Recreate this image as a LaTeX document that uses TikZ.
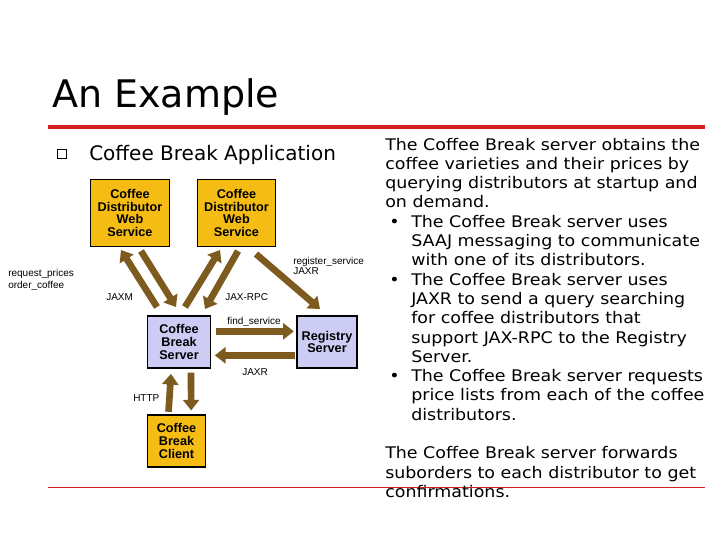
\documentclass[tikz,border=0pt]{standalone}
\usepackage{fontspec}
\setmainfont{DejaVu Sans}
\newfontfamily\widefont[FakeStretch=1.09]{DejaVu Sans}
\newfontfamily\arial{Liberation Sans}
\usetikzlibrary{arrows.meta}
\definecolor{boxyellow}{HTML}{F5BD14}
\definecolor{boxblue}{HTML}{CCCCF5}
\definecolor{brownarrow}{HTML}{7D5A1E}
\definecolor{slidered}{HTML}{D42020}
\tikzset{
  ybox/.style={draw=black, line width=0.8pt, fill=boxyellow, align=center, font=\arial\bfseries\fontsize{9.5}{9.5}\selectfont, inner sep=0pt},
  bbox/.style={draw=black, line width=0.8pt, fill=boxblue, align=center, font=\arial\bfseries\fontsize{9.5}{9.5}\selectfont, inner sep=0pt},
  fat/.style={draw=brownarrow, line width=5pt, -{Triangle[length=8pt,width=12pt]}},
  lbl/.style={font=\arial\fontsize{7.5}{8}\selectfont, anchor=base west, inner sep=0pt},
  rt/.style={font=\widefont\fontsize{12}{12}\selectfont, anchor=base west, inner sep=0pt}
}
\begin{document}
\begin{tikzpicture}[x=0.75pt,y=-0.75pt]
\useasboundingbox (0,0) rectangle (720,540);
\fill[white] (0,0) rectangle (720,540);
% title
\node[font=\fontsize{28.5}{30}\selectfont, anchor=base west, inner sep=0pt] (title) at (52,107) {An Example};
\draw[slidered, line width=2.5pt] (48,127) -- (705,127);
\draw[slidered, line width=0.5pt] (48,487) -- (705,487);
\node[draw=black, line width=0.6pt, minimum size=7pt, inner sep=0pt] (bul) at (62,154) {};
\node[font=\fontsize{15}{16}\selectfont, anchor=base west, inner sep=0pt] (sub) at (89,160) {Coffee Break Application};
% boxes
\node[ybox, minimum width=59pt, minimum height=50pt] (d1) at (130,213) {Coffee\\Distributor\\Web\\Service};
\node[ybox, minimum width=59pt, minimum height=50pt] (d2) at (236.5,213) {Coffee\\Distributor\\Web\\Service};
\node[bbox, minimum width=47pt, minimum height=39pt] (srv) at (179,342) {Coffee\\Break\\Server};
\node[bbox, minimum width=45pt, minimum height=39pt] (reg) at (327,342) {Registry\\Server};
\node[ybox, minimum width=43pt, minimum height=39pt] (cli) at (176.5,441) {Coffee\\Break\\Client};
% arrows
\coordinate (a1s) at (157,307); \coordinate (a1e) at (121,250);
\coordinate (a2s) at (141,251); \coordinate (a2e) at (176,307);
\coordinate (a3s) at (185,307); \coordinate (a3e) at (220,250);
\coordinate (a4s) at (238,251); \coordinate (a4e) at (205,309);
\coordinate (a5s) at (256,254); \coordinate (a5e) at (320,309);
\draw[fat] (a1s) -- (a1e);
\draw[fat] (a2s) -- (a2e);
\draw[fat] (a3s) -- (a3e);
\draw[fat] (a4s) -- (a4e);
\draw[fat] (a5s) -- (a5e);
\draw[fat] ([xshift=4pt,yshift=8pt]srv.east) -- ([xshift=-2pt,yshift=8pt]reg.west);
\draw[fat] ([xshift=-1pt,yshift=-10pt]reg.west) -- ([xshift=3pt,yshift=-10pt]srv.east);
\draw[fat] ([xshift=-6pt,yshift=2pt]cli.north) -- ([xshift=-6pt,yshift=-4pt]srv.south);
\draw[fat] ([xshift=9pt,yshift=-3pt]srv.south) -- ([xshift=11pt,yshift=3pt]cli.north);
% labels
\node[lbl] (l1) at (8,276) {request\_prices};
\node[lbl] (l2) at (8,288) {order\_coffee};
\node[lbl] (l3) at (106,300) {JAXM};
\node[lbl] (l4) at (225,300) {JAX-RPC};
\node[lbl] (l5) at (293,264) {register\_service};
\node[lbl] (l6) at (293,274) {JAXR};
\node[lbl] (l7) at (227,324) {find\_service};
\node[lbl] (l8) at (242,375) {JAXR};
\node[lbl] (l9) at (133,401) {HTTP};
% right text
\node[rt] (t1) at (385,150) {The Coffee Break server obtains the};
\node[rt] (t2) at (385,169.3) {coffee varieties and their prices by};
\node[rt] (t3) at (385,188.6) {querying distributors at startup and};
\node[rt] (t4) at (385,207.9) {on demand.};
\node[rt] (b1) at (389,227.2) {•};
\node[rt] (t5) at (411,227.2) {The Coffee Break server uses};
\node[rt] (t6) at (411,246.5) {SAAJ messaging to communicate};
\node[rt] (t7) at (411,265.8) {with one of its distributors.};
\node[rt] (b2) at (389,285.1) {•};
\node[rt] (t8) at (411,285.1) {The Coffee Break server uses};
\node[rt] (t9) at (411,304.4) {JAXR to send a query searching};
\node[rt] (t10) at (411,323.7) {for coffee distributors that};
\node[rt] (t11) at (411,343) {support JAX-RPC to the Registry};
\node[rt] (t12) at (411,362.3) {Server.};
\node[rt] (b3) at (389,381.6) {•};
\node[rt] (t13) at (411,381.6) {The Coffee Break server requests};
\node[rt] (t14) at (411,400.9) {price lists from each of the coffee};
\node[rt] (t15) at (411,420.2) {distributors.};
\node[rt] (t16) at (385,458.8) {The Coffee Break server forwards};
\node[rt] (t17) at (385,478.1) {suborders to each distributor to get};
\node[rt] (t18) at (385,497.4) {confirmations.};
\end{tikzpicture}
\end{document}
